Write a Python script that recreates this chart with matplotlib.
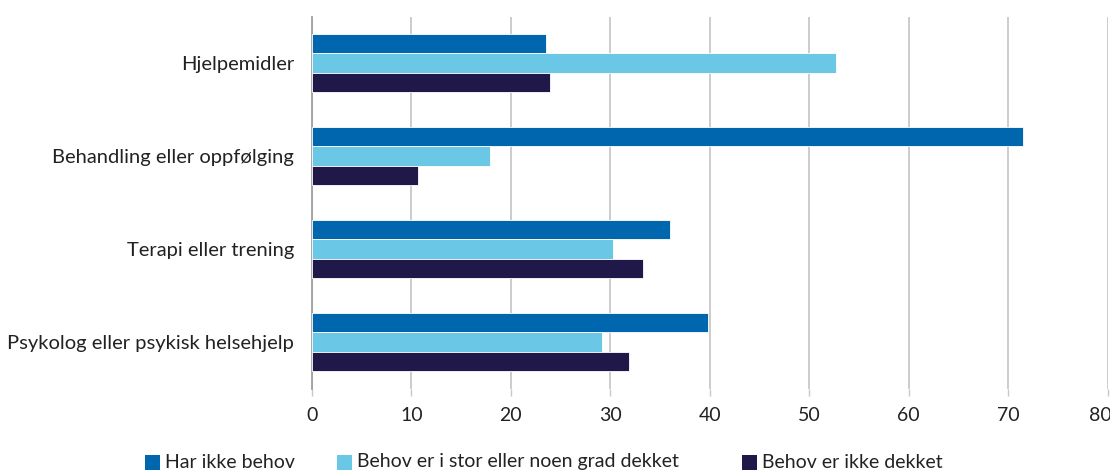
import matplotlib
matplotlib.use("Agg")
import matplotlib.pyplot as plt
import matplotlib.transforms as mtransforms
import numpy as np
from matplotlib.patches import Rectangle

categories = ["Hjelpemidler", "Behandling eller oppfølging", "Terapi eller trening",
              "Psykolog eller psykisk helsehjelp"]
series_names = ["Har ikke behov", "Behov er i stor eller noen grad dekket", "Behov er ikke dekket"]
har_ikke_behov = [23.5, 71.5, 36.0, 39.8]
behov_dekket = [52.7, 17.9, 30.3, 29.2]
behov_ikke_dekket = [23.9, 10.7, 33.3, 31.9]
xticks = [0, 10, 20, 30, 40, 50, 60, 70, 80]

colors = ["#0066AE", "#6AC7E6", "#201848"]

plt.rcParams['font.family'] = ['Lato', 'DejaVu Sans']
W, H = 1110, 472

fig = plt.figure(figsize=(W / 100, H / 100), dpi=100)
ax = fig.add_axes([312 / W, 1 - 388.5 / H, (1107.7 - 312) / W, (388.5 - 16.5) / H])

y = np.arange(len(categories))
h = 0.21
for i, (vals, col) in enumerate(zip([har_ikke_behov, behov_dekket, behov_ikke_dekket], colors)):
    ax.barh(y + (i - 1) * h, vals, height=h, color=col, edgecolor="white",
            linewidth=0.6, zorder=3)

ax.set_ylim(len(categories) - 0.5, -0.5)
ax.set_xlim(0, 80)
ax.set_xticks(xticks)
ax.set_xticklabels([str(t) for t in xticks])
ax.set_yticks(y)
ax.set_yticklabels(categories)

ax.grid(axis="x", color="#c8c8c8", linewidth=1.3, zorder=0)
for s in ["top", "right", "bottom"]:
    ax.spines[s].set_visible(False)
ax.spines["left"].set_color("#a0a0a0")
ax.spines["left"].set_linewidth(1.3)
ax.tick_params(axis="y", length=0, pad=13, labelsize=14.5, labelcolor="#222222")
ax.tick_params(axis="x", length=5, color="#c8c8c8", width=1.0, pad=8,
               labelsize=14, labelcolor="#222222")

# keep the last tick label inside the canvas
last = ax.get_xticklabels()[-1]
last.set_transform(last.get_transform() +
                   mtransforms.ScaledTranslation(-7 / 100, 0, fig.dpi_scale_trans))

# Legend row along the bottom edge: coloured square followed by its label
legend_x = [145, 337, 742]
legend_y = 462
sq = 15
for lx, col, name in zip(legend_x, colors, series_names):
    fig.patches.append(Rectangle((lx / W, (H - legend_y - sq / 2) / H), sq / W, sq / H,
                                 transform=fig.transFigure, facecolor=col,
                                 edgecolor="none"))
    fig.text((lx + 20) / W, (H - legend_y) / H, name, fontsize=14,
             color="#222222", ha="left", va="center")

fig.savefig("out.png", dpi=100)
